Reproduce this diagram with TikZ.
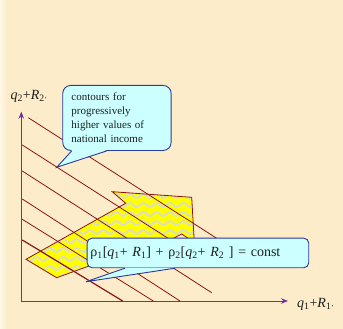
\documentclass[tikz,border=0pt]{standalone}
\usepackage{fontspec}
\setmainfont{Liberation Serif}
\usepackage{xcolor}
\usepackage{tikz}
\usetikzlibrary{arrows.meta}
\definecolor{pagebg}{HTML}{FDECC9}
\definecolor{pageedge}{HTML}{FFF6E4}
\definecolor{axisviolet}{HTML}{7030A0}
\definecolor{contourred}{HTML}{8C1414}
\definecolor{notefill}{HTML}{CCFFFF}
\definecolor{noteblue}{HTML}{2B3A9C}
\definecolor{regionyellow}{HTML}{FFFF00}
\definecolor{wavegray}{HTML}{DCDCCC}
\definecolor{textdark}{HTML}{1E1E1E}

\begin{document}
\begin{tikzpicture}[
  x=1pt, y=-1pt,
  >={Stealth[length=7pt, width=5.5pt]},
  axis/.style={<->, line width=1pt, color=axisviolet},
  contour/.style={line width=0.8pt, color=contourred},
  heavycontour/.style={contour, line width=1.2pt},
  regionedge/.style={draw=contourred, line width=0.8pt, line join=miter},
  wave/.style={draw=wavegray, line width=1.9pt},
  note/.style={
    draw=noteblue, fill=notefill, line width=0.9pt,
    text=textdark, align=left, anchor=north west
  },
  ptr/.style={draw=noteblue, line width=0.9pt, line join=miter},
  axislabel/.style={font=\fontsize{14}{16}\selectfont, text=textdark, inner sep=0pt, anchor=west}
]
  \fill[pagebg] (0,0) rectangle (343,329);
  \fill[left color=pageedge, right color=pagebg] (0,0) rectangle (7,329);
  \useasboundingbox (0,0) rectangle (343,329);

  \def\regionpath{(112.3,191.7) -- (191.7,197.3) -- (194.3,242) -- (190.5,240)
    -- (181.7,234) -- (172,239) -- (100,262) -- (56.7,277.7) -- (26,259.3)
    -- (125.7,203.3) -- cycle}
  \begin{scope}
    \clip \regionpath;
    \fill[regionyellow] (0,180) rectangle (200,290);
    \foreach \row in {187,196,...,286}
      \draw[wave] plot[domain=20:200, samples=90, smooth] (\x, {\row + 2*sin(27*\x)});
  \end{scope}
  \draw[regionedge] \regionpath;

  \foreach \xa/\ya/\xb/\yb in {28.3/117.7/235/250, 22.3/145/195/255.5,
      22.3/171/211.7/292.7, 22.3/199/180/301, 22.3/219.3/153.3/301}
    \draw[contour] (\xa,\ya) -- (\xb,\yb);
  \draw[heavycontour] (22.3,240) -- (122.7,301);

  \coordinate (origin) at (21.3,301);
  \coordinate (ytip) at (21.3,111.7);
  \coordinate (xtip) at (288,301);
  \draw[axis] (ytip) -- (origin) -- (xtip);

  \node[axislabel] (ylabel) at (10.3,96) {\textit{q}\textsubscript{2}+\textit{R}\textsubscript{2·}};
  \node[axislabel] (xlabel) at (297,304.5) {\textit{q}\textsubscript{1}+\textit{R}\textsubscript{1·}};

  \node[note, rounded corners=8pt, font=\fontsize{11}{14}\selectfont,
    text width=91pt, inner xsep=8.7pt, minimum height=65pt] (contours) at (62.3,85)
    {contours for\\progressively\\higher values of\\national income};
  \coordinate (contourstip) at (56.7,167.3);
  \fill[notefill] ([xshift=9.4pt, yshift=0.7pt]contours.south west) -- (contourstip)
    -- ([xshift=44.4pt, yshift=0.7pt]contours.south west) -- cycle;
  \draw[ptr] ([xshift=9.4pt]contours.south west) -- (contourstip)
    -- ([xshift=44.4pt]contours.south west);

  \node[note, rounded corners=5pt, font=\fontsize{14}{16}\selectfont,
    text width=215pt, inner xsep=3.3pt, minimum height=29.6pt] (budget) at (86.7,237.7)
    {ρ\textsubscript{1}[\textit{q}\textsubscript{1}+ \textit{R}\textsubscript{1}] + ρ\textsubscript{2}[\textit{q}\textsubscript{2}+ \textit{R}\textsubscript{2} ] = const};
  \coordinate (budgettip) at (86,281.7);
  \fill[notefill] ([xshift=38.3pt, yshift=0.7pt]budget.south west) -- (budgettip)
    -- ([xshift=88.3pt, yshift=0.7pt]budget.south west) -- cycle;
  \draw[ptr] ([xshift=38.3pt]budget.south west) -- (budgettip)
    -- ([xshift=88.3pt]budget.south west);
\end{tikzpicture}
\end{document}
